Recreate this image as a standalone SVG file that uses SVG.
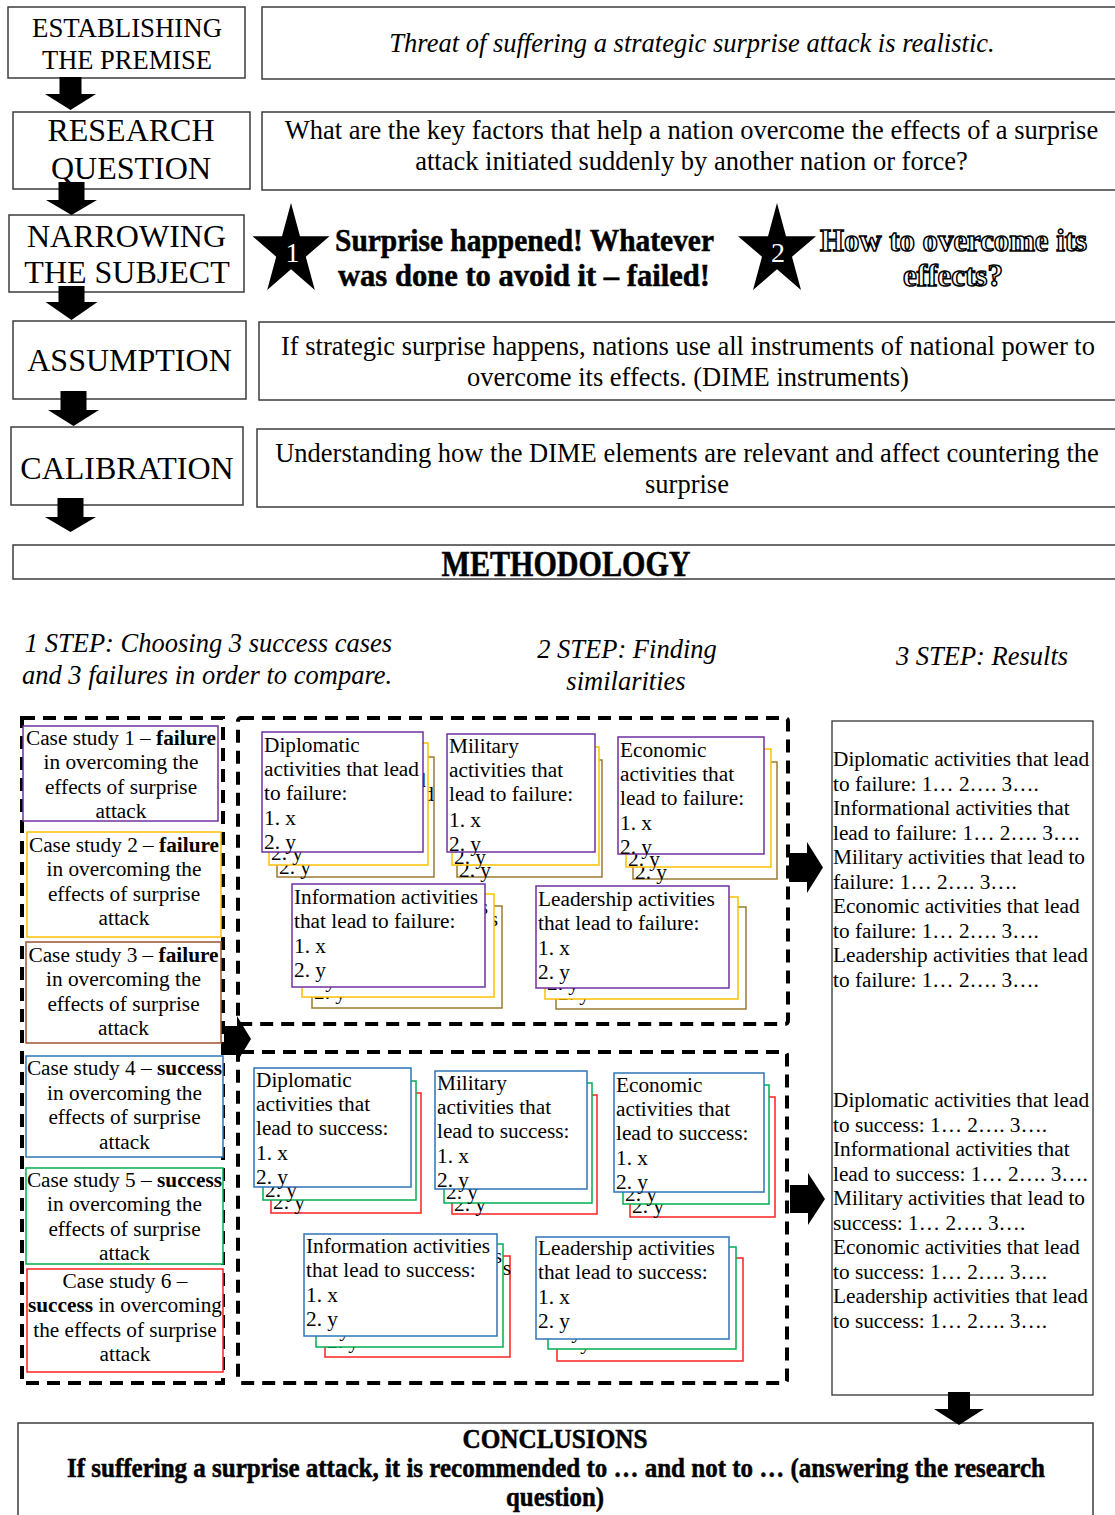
<svg xmlns="http://www.w3.org/2000/svg" width="1115" height="1515" viewBox="0 0 1115 1515">
<style>
text{font-family:"Liberation Serif","Times New Roman",serif;fill:#000}
.box{fill:#fff;stroke:#3c3c3c;stroke-width:1.5}
.lbl{font-size:32px;text-anchor:middle}
.lbl2{font-size:28px;text-anchor:middle}
.body{font-size:26.5px;text-anchor:middle}
.it{font-style:italic}
.step{font-size:26.5px;font-style:italic;text-anchor:middle}
.sm{font-size:21.3px}
.cs{font-size:21.3px;text-anchor:middle}
.b{font-weight:bold}
.dash{fill:none;stroke:#000;stroke-width:4;stroke-dasharray:13 8}
.arr{fill:#000}
.card{fill:#fff;stroke-width:1.5}
.pur{stroke:#7030A0}
.yel{stroke:#FFC000}
.brn{stroke:#9C7B30}
.brn2{stroke:#A0522D}
.blu{stroke:#2E75B6}
.grn{stroke:#00B050}
.red{stroke:#FF2020}
.csbox{fill:#fff;stroke-width:1.5}
.hv{font-weight:bold;stroke:#000;stroke-width:0.5;text-anchor:middle}
.outl{font-weight:bold;fill:#fff;stroke:#000;stroke-width:1.5;text-anchor:middle;font-size:31px}
.star{fill:#000}
.wn{fill:#fff;font-size:28px;text-anchor:middle}
.res{fill:#fff;stroke:#333;stroke-width:1.3}
</style>
<defs>
<text id="tDipF" class="sm"><tspan x="2" y="20">Diplomatic</tspan><tspan x="2" y="44">activities that lead</tspan><tspan x="2" y="68">to failure:</tspan><tspan x="2" y="93">1. x</tspan><tspan x="2" y="117">2. y</tspan></text>
<text id="tMilF" class="sm"><tspan x="2" y="19">Military</tspan><tspan x="2" y="43">activities that</tspan><tspan x="2" y="67">lead to failure:</tspan><tspan x="2" y="93">1. x</tspan><tspan x="2" y="117">2. y</tspan></text>
<text id="tEcoF" class="sm"><tspan x="2" y="20">Economic</tspan><tspan x="2" y="44">activities that</tspan><tspan x="2" y="68">lead to failure:</tspan><tspan x="2" y="93">1. x</tspan><tspan x="2" y="117">2. y</tspan></text>
<text id="tInfF" class="sm"><tspan x="2" y="20">Information activities</tspan><tspan x="2" y="44">that lead to failure:</tspan><tspan x="2" y="69">1. x</tspan><tspan x="2" y="93">2. y</tspan></text>
<text id="tLeaF" class="sm"><tspan x="2" y="20">Leadership activities</tspan><tspan x="2" y="44">that lead to failure:</tspan><tspan x="2" y="69">1. x</tspan><tspan x="2" y="93">2. y</tspan></text>
<text id="tDipS" class="sm"><tspan x="2" y="19">Diplomatic</tspan><tspan x="2" y="43">activities that</tspan><tspan x="2" y="67">lead to success:</tspan><tspan x="2" y="92">1. x</tspan><tspan x="2" y="116">2. y</tspan></text>
<text id="tMilS" class="sm"><tspan x="2" y="19">Military</tspan><tspan x="2" y="43">activities that</tspan><tspan x="2" y="67">lead to success:</tspan><tspan x="2" y="92">1. x</tspan><tspan x="2" y="116">2. y</tspan></text>
<text id="tEcoS" class="sm"><tspan x="2" y="19">Economic</tspan><tspan x="2" y="43">activities that</tspan><tspan x="2" y="67">lead to success:</tspan><tspan x="2" y="92">1. x</tspan><tspan x="2" y="116">2. y</tspan></text>
<text id="tInfS" class="sm"><tspan x="2" y="19">Information activities</tspan><tspan x="2" y="43">that lead to success:</tspan><tspan x="2" y="68">1. x</tspan><tspan x="2" y="92">2. y</tspan></text>
<text id="tLeaS" class="sm"><tspan x="2" y="18">Leadership activities</tspan><tspan x="2" y="42">that lead to success:</tspan><tspan x="2" y="67">1. x</tspan><tspan x="2" y="91">2. y</tspan></text>
</defs>

<!-- top section -->
<g id="n-premise"><rect class="box" x="8" y="7" width="237" height="71"/><text class="lbl2" x="127" y="37" textLength="190" lengthAdjust="spacingAndGlyphs">ESTABLISHING</text><text class="lbl2" x="127" y="69" textLength="170" lengthAdjust="spacingAndGlyphs">THE PREMISE</text></g>
<g id="n-threat"><rect class="box" x="262" y="7" width="870" height="72"/><text class="body it" x="692" y="52">Threat of suffering a strategic surprise attack is realistic.</text></g>
<g id="n-rq"><rect class="box" x="13" y="112" width="237" height="77"/><text class="lbl" x="131" y="141">RESEARCH</text><text class="lbl" x="131" y="179">QUESTION</text></g>
<g id="n-rqtext"><rect class="box" x="262" y="112" width="870" height="78"/><text class="body" x="691.5" y="139">What are the key factors that help a nation overcome the effects of a surprise</text><text class="body" x="691.5" y="170">attack initiated suddenly by another nation or force?</text></g>
<g id="n-narrow"><rect class="box" x="9" y="215" width="235" height="77"/><text class="lbl" x="126.5" y="247">NARROWING</text><text class="lbl" x="127" y="283">THE SUBJECT</text></g>
<g id="n-star1"><path class="star" d="M291,203 L300,236.2 L329.5,236.2 L305.8,256.7 L314.8,290 L291,269.3 L267.2,290 L276.2,256.7 L252.5,236.2 L282,236.2 Z"/><text class="wn" x="292.5" y="262">1</text></g>
<g id="n-surprise"><text class="hv" x="524.5" y="251" font-size="31" textLength="379" lengthAdjust="spacingAndGlyphs">Surprise happened! Whatever</text><text class="hv" x="524" y="286" font-size="31" textLength="372" lengthAdjust="spacingAndGlyphs">was done to avoid it – failed!</text></g>
<g id="n-star2"><path class="star" d="M777,203 L786,236.2 L816,236.2 L792,256.7 L801,290 L777,269.3 L753,290 L762,256.7 L738,236.2 L768,236.2 Z"/><text class="wn" x="778" y="262">2</text></g>
<g id="n-overcome"><text class="outl" x="953.5" y="251" textLength="267" lengthAdjust="spacingAndGlyphs">How to overcome its</text><text class="outl" x="953" y="286">effects?</text></g>
<g id="n-assump"><rect class="box" x="13" y="321" width="233" height="78"/><text class="lbl" x="129.5" y="371">ASSUMPTION</text></g>
<g id="n-assumptext"><rect class="box" x="259" y="322" width="870" height="78"/><text class="body" x="688" y="355">If strategic surprise happens, nations use all instruments of national power to</text><text class="body" x="688" y="386">overcome its effects. (DIME instruments)</text></g>
<g id="n-calib"><rect class="box" x="11" y="427" width="232" height="78"/><text class="lbl" x="127" y="479">CALIBRATION</text></g>
<g id="n-calibtext"><rect class="box" x="257" y="429" width="870" height="78"/><text class="body" x="687" y="462">Understanding how the DIME elements are relevant and affect countering the</text><text class="body" x="687" y="493">surprise</text></g>
<g id="n-method"><rect class="box" x="13" y="545" width="1110" height="34"/><text class="hv" x="566" y="576" font-size="35" textLength="249" lengthAdjust="spacingAndGlyphs">METHODOLOGY</text></g>

<!-- steps -->
<g id="n-step1"><text class="step" x="208.5" y="652">1 STEP: Choosing 3 success cases</text><text class="step" x="207" y="684">and 3 failures in order to compare.</text></g>
<g id="n-step2"><text class="step" x="627" y="658">2 STEP: Finding</text><text class="step" x="626" y="690">similarities</text></g>
<g id="n-step3"><text class="step" x="982" y="665">3 STEP: Results</text></g>

<!-- dashed containers -->
<g id="n-cases-frame"><rect class="dash" x="22" y="718" width="201" height="665"/></g>
<g id="n-fail-frame"><rect class="dash" x="238" y="718" width="550" height="306" rx="3"/></g>
<g id="n-succ-frame"><rect class="dash" x="238" y="1052" width="549" height="331" rx="3"/></g>

<!-- case studies -->
<g id="n-case1"><rect class="csbox pur" x="23" y="726" width="195" height="95"/><text class="cs" x="121" y="745">Case study 1 – <tspan class="b">failure</tspan></text><text class="cs" x="121" y="769">in overcoming the</text><text class="cs" x="121" y="794">effects of surprise</text><text class="cs" x="121" y="818">attack</text></g>
<g id="n-case2"><rect class="csbox yel" x="27" y="832" width="194" height="105"/><text class="cs" x="124" y="852">Case study 2 – <tspan class="b">failure</tspan></text><text class="cs" x="124" y="876">in overcoming the</text><text class="cs" x="124" y="901">effects of surprise</text><text class="cs" x="124" y="925">attack</text></g>
<g id="n-case3"><rect class="csbox brn2" x="26" y="942" width="195" height="101"/><text class="cs" x="123.5" y="962">Case study 3 – <tspan class="b">failure</tspan></text><text class="cs" x="123.5" y="986">in overcoming the</text><text class="cs" x="123.5" y="1011">effects of surprise</text><text class="cs" x="123.5" y="1035">attack</text></g>
<g id="n-case4"><rect class="csbox blu" x="26" y="1056" width="197" height="101"/><text class="cs" x="124.5" y="1075">Case study 4 – <tspan class="b">success</tspan></text><text class="cs" x="124.5" y="1100">in overcoming the</text><text class="cs" x="124.5" y="1124">effects of surprise</text><text class="cs" x="124.5" y="1149">attack</text></g>
<g id="n-case5"><rect class="csbox grn" x="26" y="1168" width="197" height="96"/><text class="cs" x="124.5" y="1187">Case study 5 – <tspan class="b">success</tspan></text><text class="cs" x="124.5" y="1211">in overcoming the</text><text class="cs" x="124.5" y="1236">effects of surprise</text><text class="cs" x="124.5" y="1260">attack</text></g>
<g id="n-case6"><rect class="csbox red" x="27" y="1269" width="196" height="103"/><text class="cs" x="125" y="1288">Case study 6 –</text><text class="cs" x="125" y="1312"><tspan class="b">success</tspan> in overcoming</text><text class="cs" x="125" y="1337">the effects of surprise</text><text class="cs" x="125" y="1361">attack</text></g>

<!-- failure cards -->
<g id="n-dipF">
<g transform="translate(277,757)"><rect class="card brn" width="157" height="120"/><use href="#tDipF"/></g>
<g transform="translate(269,743)"><rect class="card yel" width="159" height="122"/><use href="#tDipF"/></g>
<g transform="translate(262,732)"><rect class="card pur" width="161" height="120"/><use href="#tDipF"/></g>
</g>
<g id="n-milF">
<g transform="translate(457,760)"><rect class="card brn" width="145" height="117"/><use href="#tMilF"/></g>
<g transform="translate(452,747)"><rect class="card yel" width="147" height="118"/><use href="#tMilF"/></g>
<g transform="translate(447,734)"><rect class="card pur" width="148" height="118"/><use href="#tMilF"/></g>
</g>
<g id="n-ecoF">
<g transform="translate(633,762)"><rect class="card brn" width="144" height="117"/><use href="#tEcoF"/></g>
<g transform="translate(626,749)"><rect class="card yel" width="145" height="118"/><use href="#tEcoF"/></g>
<g transform="translate(618,737)"><rect class="card pur" width="146" height="117"/><use href="#tEcoF"/></g>
</g>
<g id="n-infF">
<g transform="translate(312,906)"><rect class="card brn" width="190" height="102"/><use href="#tInfF"/></g>
<g transform="translate(302,894)"><rect class="card yel" width="192" height="103"/><use href="#tInfF"/></g>
<g transform="translate(292,884)"><rect class="card pur" width="193" height="103"/><use href="#tInfF"/></g>
</g>
<g id="n-leaF">
<g transform="translate(556,907)"><rect class="card brn" width="190" height="102"/><use href="#tLeaF"/></g>
<g transform="translate(545,897)"><rect class="card yel" width="193" height="102"/><use href="#tLeaF"/></g>
<g transform="translate(536,886)"><rect class="card pur" width="193" height="102"/><use href="#tLeaF"/></g>
</g>

<!-- success cards -->
<g id="n-dipS">
<g transform="translate(271,1093)"><rect class="card red" width="150" height="120"/><use href="#tDipS"/></g>
<g transform="translate(263,1081)"><rect class="card grn" width="153" height="119"/><use href="#tDipS"/></g>
<g transform="translate(254,1068)"><rect class="card blu" width="157" height="119"/><use href="#tDipS"/></g>
</g>
<g id="n-milS">
<g transform="translate(452,1095)"><rect class="card red" width="145" height="119"/><use href="#tMilS"/></g>
<g transform="translate(444,1083)"><rect class="card grn" width="148" height="120"/><use href="#tMilS"/></g>
<g transform="translate(435,1071)"><rect class="card blu" width="152" height="118"/><use href="#tMilS"/></g>
</g>
<g id="n-ecoS">
<g transform="translate(630,1097)"><rect class="card red" width="145" height="120"/><use href="#tEcoS"/></g>
<g transform="translate(623,1085)"><rect class="card grn" width="146" height="119"/><use href="#tEcoS"/></g>
<g transform="translate(614,1073)"><rect class="card blu" width="150" height="119"/><use href="#tEcoS"/></g>
</g>
<g id="n-infS">
<g transform="translate(325,1256)"><rect class="card red" width="185" height="101"/><use href="#tInfS"/></g>
<g transform="translate(316,1244)"><rect class="card grn" width="187" height="103"/><use href="#tInfS"/></g>
<g transform="translate(304,1234)"><rect class="card blu" width="193" height="102"/><use href="#tInfS"/></g>
</g>
<g id="n-leaS">
<g transform="translate(557,1258)"><rect class="card red" width="186" height="103"/><use href="#tLeaS"/></g>
<g transform="translate(548,1247)"><rect class="card grn" width="188" height="102"/><use href="#tLeaS"/></g>
<g transform="translate(536,1237)"><rect class="card blu" width="193" height="102"/><use href="#tLeaS"/></g>
</g>

<!-- results -->
<g id="n-results"><rect class="res" x="832" y="721" width="261" height="674"/>
<text class="sm"><tspan x="833" y="766">Diplomatic activities that lead</tspan><tspan x="833" y="790.5">to failure: 1… 2…. 3….</tspan><tspan x="833" y="815">Informational activities that</tspan><tspan x="833" y="839.5">lead to failure: 1… 2…. 3….</tspan><tspan x="833" y="864">Military activities that lead to</tspan><tspan x="833" y="888.5">failure: 1… 2…. 3….</tspan><tspan x="833" y="913">Economic activities that lead</tspan><tspan x="833" y="937.5">to failure: 1… 2…. 3….</tspan><tspan x="833" y="962">Leadership activities that lead</tspan><tspan x="833" y="986.5">to failure: 1… 2…. 3….</tspan></text>
<text class="sm"><tspan x="833" y="1107">Diplomatic activities that lead</tspan><tspan x="833" y="1131.5">to success: 1… 2…. 3….</tspan><tspan x="833" y="1156">Informational activities that</tspan><tspan x="833" y="1180.5">lead to success: 1… 2…. 3….</tspan><tspan x="833" y="1205">Military activities that lead to</tspan><tspan x="833" y="1229.5">success: 1… 2…. 3….</tspan><tspan x="833" y="1254">Economic activities that lead</tspan><tspan x="833" y="1278.5">to success: 1… 2…. 3….</tspan><tspan x="833" y="1303">Leadership activities that lead</tspan><tspan x="833" y="1327.5">to success: 1… 2…. 3….</tspan></text>
</g>

<!-- conclusions -->
<g id="n-concl"><rect class="box" x="18" y="1423" width="1075" height="110"/>
<text class="hv" x="555" y="1448" font-size="26.5" textLength="185" lengthAdjust="spacingAndGlyphs">CONCLUSIONS</text>
<text class="hv" x="556" y="1477" font-size="26.5" textLength="978" lengthAdjust="spacingAndGlyphs">If suffering a surprise attack, it is recommended to … and not to … (answering the research</text>
<text class="hv" x="555" y="1506" font-size="26.5" textLength="98" lengthAdjust="spacingAndGlyphs">question)</text>
</g>

<!-- connectors -->
<g id="connectors">
<path class="arr" d="M59.5,77 H81.5 V94 H96 L70.5,110 L45,94 H59.5 Z"/>
<path class="arr" d="M58.5,182 H84.5 V200 H97 L71.5,215 L46,200 H58.5 Z"/>
<path class="arr" d="M58.5,286 H84.5 V302 H97.5 L71.5,320 L45.5,302 H58.5 Z"/>
<path class="arr" d="M60.5,391 H86.5 V410 H99 L73.5,426 L48,410 H60.5 Z"/>
<path class="arr" d="M57.5,498 H83.5 V517 H96 L70.5,532 L45,517 H57.5 Z"/>
<path class="arr" d="M224,1026 H237 V1016 L251,1039 L237,1062 V1055 H224 Z"/>
<path class="arr" d="M789,853 H807 V842 L823,867.5 L807,893 V882 H789 Z"/>
<path class="arr" d="M790,1185 H808 V1173 L825,1199 L808,1225 V1213 H790 Z"/>
<path class="arr" d="M948,1392 H970 V1409 H984 L959,1425 L934,1409 H948 Z"/>
</g>
</svg>
